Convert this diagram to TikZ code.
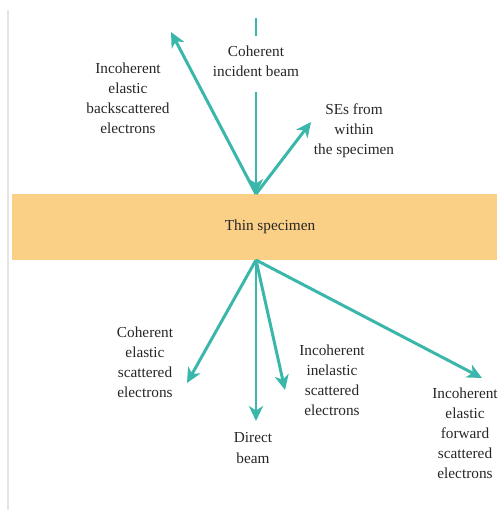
\documentclass[tikz,border=0pt]{standalone}
\usepackage{fontspec}
\setmainfont{Liberation Serif}
\usetikzlibrary{arrows.meta}

\definecolor{beamteal}{RGB}{58,183,170}
\definecolor{specimenfill}{RGB}{250,208,135}

\tikzset{
	beam/.style = {draw = beamteal, line width = 1.7pt},
	ray/.style = {beam, -{Stealth[length = 8.5pt, width = 8pt, inset = 2.5pt]}},
	textlabel/.style = {align = center, inner sep = 0pt, text = black!85,
					font = \rmfamily\fontsize{8.7}{11.4}\selectfont}
}

\begin{document}
\begin{tikzpicture}[x = 0.02cm, y = -0.02cm]
	\useasboundingbox (0, 0) rectangle (503, 510);
	\draw[gray!20, line width = 1.2pt] (8, 10) -- (8, 510);

	% specimen
	\fill[specimenfill] (12, 194) rectangle (497, 260);
	\draw (270, 227) node[textlabel](specimen){Thin specimen};
	\coordinate (top) at (256, 194);
	\coordinate (bottom) at (256, 260);

	% incident beam
	\coordinate (beamtop) at (256, 18);
	\coordinate (beamgap) at (256, 36);
	\coordinate (beamstart) at (256, 92);
	\draw (256, 61) node[textlabel](incident){Coherent\\incident beam};
	\draw[beam] (beamtop) -- (beamgap);
	\draw[ray] (beamstart) -- (top);

	% above the specimen
	\coordinate (back) at (171, 32);
	\coordinate (se) at (311, 122);
	\draw (128, 98) node[textlabel](backtext){Incoherent\\elastic\\backscattered\\electrons};
	\draw (354, 131) node[textlabel](setext){SEs from\\within\\the specimen};
	\draw[ray] (top) -- (back);
	\draw[ray] (top) -- (se);

	% below the specimen
	\coordinate (coh) at (187, 383);
	\coordinate (direct) at (256, 421);
	\coordinate (inel) at (285, 390);
	\coordinate (fwd) at (482, 378);
	\draw (145, 362) node[textlabel](cohtext){Coherent\\elastic\\scattered\\electrons};
	\draw (253, 448) node[textlabel](directtext){Direct\\beam};
	\draw (332, 380) node[textlabel](ineltext){Incoherent\\inelastic\\scattered\\electrons};
	\draw (465, 433) node[textlabel](fwdtext){Incoherent\\elastic\\forward\\scattered\\electrons};
	\draw[ray] (bottom) -- (coh);
	\draw[ray] (bottom) -- (direct);
	\draw[ray] (bottom) -- (inel);
	\draw[ray] (bottom) -- (fwd);
\end{tikzpicture}
\end{document}
